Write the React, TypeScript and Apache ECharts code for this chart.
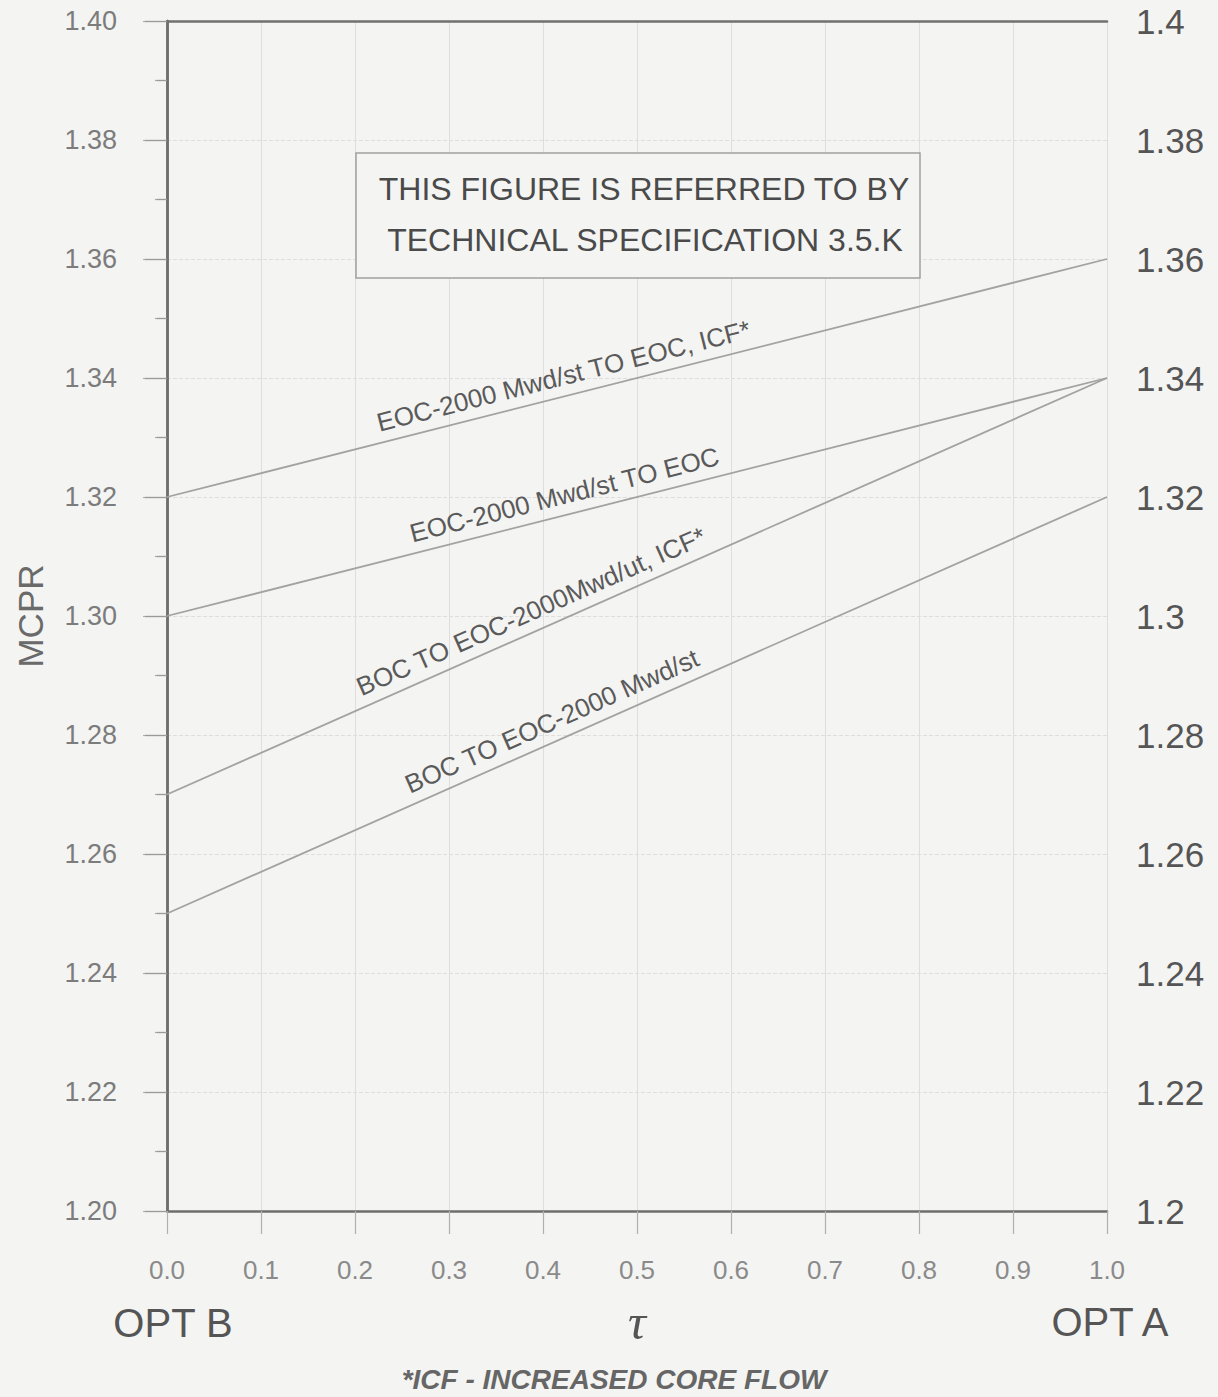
import React, { useEffect, useRef } from "react";
import * as echarts from "echarts";

// ---- data ----
const tauValues = [0.0, 1.0];
const seriesNames = [
  "EOC-2000 Mwd/st TO EOC, ICF*",
  "EOC-2000 Mwd/st TO EOC",
  "BOC TO EOC-2000Mwd/ut, ICF*",
  "BOC TO EOC-2000 Mwd/st",
];
const eocIcfMcpr = [1.32, 1.36];
const eocMcpr = [1.3, 1.34];
const bocIcfMcpr = [1.27, 1.34];
const bocMcpr = [1.25, 1.32];
const seriesValues = [eocIcfMcpr, eocMcpr, bocIcfMcpr, bocMcpr];
const labelTau = [0.427, 0.428, 0.396, 0.418];

const xMin = 0;
const xMax = 1;
const xInterval = 0.1;
const yMin = 1.2;
const yMax = 1.4;
const yInterval = 0.02;

const noteLines = ["THIS FIGURE IS REFERRED TO BY", "TECHNICAL SPECIFICATION 3.5.K"];
const leftEndLabel = "OPT B";
const rightEndLabel = "OPT A";
const xName = "τ";
const yName = "MCPR";
const footnote = "*ICF - INCREASED CORE FLOW";

const BG = "#f4f4f2";
const FONT = "'Liberation Sans', Arial, sans-serif";

export default function App() {
  const ref = useRef<HTMLDivElement>(null);

  useEffect(() => {
    if (!ref.current) return;
    const chart = echarts.init(ref.current, undefined, { renderer: "svg" });

    const series = seriesValues.map((vals, i) => ({
      name: seriesNames[i],
      type: "line",
      data: tauValues.map((t, k) => [t, vals[k]]),
      showSymbol: false,
      symbol: "none",
      lineStyle: { color: "#a2a2a2", width: 1.8 },
      xAxisIndex: 0,
      yAxisIndex: 0,
      z: 3,
    }));

    chart.setOption({
      animation: false,
      backgroundColor: BG,
      grid: { left: 167, right: 111, top: 21, bottom: 186, containLabel: false },
      xAxis: [
        {
          type: "value",
          min: xMin,
          max: xMax,
          interval: xInterval,
          position: "bottom",
          axisLine: { show: true, lineStyle: { color: "#6e6e6e", width: 2.5 } },
          axisTick: { show: true, inside: false, length: 23, lineStyle: { color: "#b0b0b0", width: 1.2 } },
          axisLabel: {
            margin: 46,
            fontSize: 26,
            fontFamily: FONT,
            color: "#8a8a8a",
            formatter: (v: number) => v.toFixed(1),
          },
          splitLine: { show: true, lineStyle: { color: "#dedede", width: 1 } },
        },
        {
          type: "value",
          min: xMin,
          max: xMax,
          interval: xInterval,
          position: "top",
          axisLine: { show: true, lineStyle: { color: "#707070", width: 2.5 } },
          axisTick: { show: false },
          axisLabel: { show: false },
          splitLine: { show: false },
        },
      ],
      yAxis: [
        {
          type: "value",
          min: yMin,
          max: yMax,
          interval: yInterval,
          position: "left",
          axisLine: { show: true, lineStyle: { color: "#6e6e6e", width: 2.5 } },
          axisTick: { show: true, inside: false, length: 24, lineStyle: { color: "#b0b0b0", width: 1.2 } },
          minorTick: { show: true, splitNumber: 2, length: 12, lineStyle: { color: "#a8a8a8", width: 1.2 } },
          axisLabel: {
            margin: 50,
            fontSize: 27,
            fontFamily: FONT,
            color: "#7c7c7c",
            formatter: (v: number) => v.toFixed(2),
          },
          splitLine: { show: true, lineStyle: { color: "#dedede", width: 1, type: "dashed" } },
        },
        {
          type: "value",
          min: yMin,
          max: yMax,
          interval: yInterval,
          position: "right",
          axisLine: { show: true, lineStyle: { color: "#6e6e6e", width: 2.5 } },
          axisTick: { show: true, inside: true, length: 22, lineStyle: { color: "#9a9a9a", width: 1.2 } },
          minorTick: { show: true, splitNumber: 2, length: 10, lineStyle: { color: "#9a9a9a", width: 1.2 } },
          axisLabel: {
            margin: 29,
            fontSize: 35,
            fontFamily: FONT,
            color: "#555555",
            formatter: (v: number) => String(parseFloat(v.toFixed(2))),
          },
          splitLine: { show: false },
        },
      ],
      series,
    });

    // labels along the lines, placed through the chart's own scales
    const lineLabels = seriesValues.map((vals, i) => {
      const p0 = chart.convertToPixel({ xAxisIndex: 0, yAxisIndex: 0 }, [tauValues[0], vals[0]]) as number[];
      const p1 = chart.convertToPixel({ xAxisIndex: 0, yAxisIndex: 0 }, [tauValues[1], vals[1]]) as number[];
      const ang = Math.atan2(p0[1] - p1[1], p1[0] - p0[0]);
      const t = labelTau[i];
      const v = vals[0] + (t - tauValues[0]) / (tauValues[1] - tauValues[0]) * (vals[1] - vals[0]);
      const p = chart.convertToPixel({ xAxisIndex: 0, yAxisIndex: 0 }, [t, v]) as number[];
      const d = 7;
      return {
        type: "text",
        x: p[0] - Math.sin(ang) * d,
        y: p[1] - Math.cos(ang) * d,
        rotation: ang,
        z: 10,
        style: {
          text: seriesNames[i],
          fill: "#5a5a5a",
          font: `26px ${FONT}`,
          textAlign: "center",
          textVerticalAlign: "bottom",
        },
      };
    });

    chart.setOption({
      graphic: [
        {
          type: "rect",
          shape: { x: 356, y: 153, width: 564, height: 125 },
          style: { fill: BG, stroke: "#a0a0a0", lineWidth: 1.5 },
          z: 5,
        },
        {
          type: "text",
          x: 644,
          y: 189,
          z: 6,
          style: { text: noteLines[0], fill: "#4a4a4a", font: `32px ${FONT}`, textAlign: "center", textVerticalAlign: "middle" },
        },
        {
          type: "text",
          x: 645,
          y: 240,
          z: 6,
          style: { text: noteLines[1], fill: "#4a4a4a", font: `32px ${FONT}`, textAlign: "center", textVerticalAlign: "middle" },
        },
        {
          type: "text",
          x: 30,
          y: 616,
          rotation: Math.PI / 2,
          style: { text: yName, fill: "#6a6a6a", font: `35px ${FONT}`, textAlign: "center", textVerticalAlign: "middle" },
        },
        {
          type: "text",
          x: 173,
          y: 1323,
          style: { text: leftEndLabel, fill: "#555555", font: `40px ${FONT}`, textAlign: "center", textVerticalAlign: "middle" },
        },
        {
          type: "text",
          x: 1110,
          y: 1322,
          style: { text: rightEndLabel, fill: "#555555", font: `40px ${FONT}`, textAlign: "center", textVerticalAlign: "middle" },
        },
        {
          type: "text",
          x: 637,
          y: 1322,
          style: { text: xName, fill: "#555555", font: `italic 50px 'Liberation Serif', 'DejaVu Serif', serif`, textAlign: "center", textVerticalAlign: "middle" },
        },
        {
          type: "text",
          x: 614,
          y: 1379,
          style: { text: footnote, fill: "#666666", font: `italic bold 28px ${FONT}`, textAlign: "center", textVerticalAlign: "middle" },
        },
        ...lineLabels,
      ],
    });

    return () => chart.dispose();
  }, []);

  return (
    <div
      ref={ref}
      style={{ position: "absolute", left: 0, top: 0, width: 1218, height: 1397, background: BG }}
    />
  );
}
